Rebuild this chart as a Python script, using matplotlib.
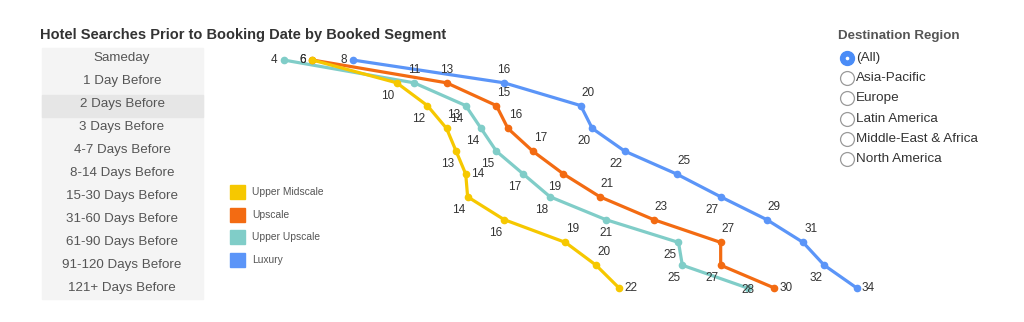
import matplotlib.pyplot as plt
from matplotlib.patches import Rectangle

plt.rcParams['font.family'] = ['Liberation Sans', 'DejaVu Sans']

# booking windows (rows) and average searches per segment
windows = ['Sameday', '1 Day Before', '2 Days Before', '3 Days Before',
           '4-7 Days Before', '8-14 Days Before', '15-30 Days Before',
           '31-60 Days Before', '61-90 Days Before', '91-120 Days Before',
           '121+ Days Before']
segments = ['Upper Midscale', 'Upscale', 'Upper Upscale', 'Luxury']
upper_midscale = [5.6, 10.0, 11.6, 12.6, 13.1, 13.6, 13.7, 15.6, 18.8, 20.4, 21.6]
upscale = [5.6, 12.6, 15.2, 15.8, 17.1, 18.7, 20.6, 23.4, 26.9, 26.9, 29.7]
upper_upscale = [4.1, 10.9, 13.6, 14.4, 15.2, 16.6, 18.0, 20.9, 24.7, 24.9, 28.3]
luxury = [7.7, 15.6, 19.6, 20.2, 21.9, 24.6, 26.9, 29.3, 31.2, 32.3, 34.0]
regions = ['(All)', 'Asia-Pacific', 'Europe', 'Latin America',
           'Middle-East & Africa', 'North America']

colors = ['#f6c800', '#f36b12', '#80cdc8', '#5b95f8']
series = [upper_midscale, upscale, upper_upscale, luxury]

# label placement per point: L=left, R=right, A=above, AR, BL, B, C
U, AR, BL, L, R, B, C = 'A', 'AR', 'BL', 'L', 'R', 'B', 'C'
label_pos = [
    [L, BL, BL, AR, BL, R, BL, BL, AR, AR, R],
    [L, U, AR, AR, AR, BL, AR, AR, AR, BL, R],
    [L, U, BL, BL, BL, BL, BL, B, BL, BL, C],
    [L, U, AR, BL, BL, AR, BL, AR, AR, BL, R],
]
offsets = {'L': (-6, 0, 'right', 'center'), 'R': (5, 0, 'left', 'center'),
           'A': (0, 7, 'center', 'bottom'), 'AR': (1, 7, 'left', 'bottom'),
           'BL': (-2, -7, 'right', 'top'), 'B': (0, -7, 'center', 'top'),
           'C': (0, -2, 'center', 'center')}

W, H = 1024, 322
fig = plt.figure(figsize=(W / 100, H / 100), dpi=100)


def fx(px):
    return px / W


def fy(py):
    return 1 - py / H


# main line chart: value 0 sits at x=205px, 19.17 px per unit; rows 22.8px apart
ax = fig.add_axes([0, 0, 1, 1])
ax.set_xlim(-205 / 19.17, (W - 205) / 19.17)
ax.set_ylim((H - 60) / 22.8, -60 / 22.8)
ax.axis('off')

rows = list(range(len(windows)))
for i in reversed(range(len(series))):
    vals = series[i]
    ax.plot(vals, rows, color=colors[i], lw=2.3, marker='o', ms=4.5,
            zorder=10 - i, solid_joinstyle='round', clip_on=False)
    for r, v in enumerate(vals):
        dx, dy, ha, va = offsets[label_pos[i][r]]
        ax.annotate(f'{v:.0f}', (v, r), xytext=(dx, dy),
                    textcoords='offset pixels', ha=ha, va=va,
                    fontsize=8.5, color='#333333', zorder=20)

# title
fig.text(fx(40), fy(35), 'Hotel Searches Prior to Booking Date by Booked Segment',
         fontsize=10.5, fontweight='bold', color='#333333', va='center')

# row header table on the left
fig.patches.append(Rectangle((fx(42), fy(299)), fx(161), 251 / H,
                             transform=fig.transFigure, color='#f4f4f4', zorder=0))
fig.patches.append(Rectangle((fx(42), fy(117)), fx(161), 22 / H,
                             transform=fig.transFigure, color='#e6e6e6', zorder=0))
for r, name in enumerate(windows):
    fig.text(fx(122), fy(58.5 + 22.9 * r), name, fontsize=9.6, color='#555555',
             ha='center', va='center')

# colour legend
for i, seg in enumerate(segments):
    y = 192 + 22.7 * i
    fig.patches.append(Rectangle((fx(230), fy(y + 7)), fx(15), 14 / H,
                                 transform=fig.transFigure, color=colors[i]))
    fig.text(fx(252), fy(y), seg, fontsize=7.4, color='#555555', va='center')

# region filter
fig.text(fx(838), fy(36), 'Destination Region', fontsize=9.6, fontweight='bold',
         color='#555555', va='center')
for k, reg in enumerate(regions):
    y = 58 + 20.2 * k
    if k == 0:
        ax.plot([fx(847)], [fy(y)], 'o', transform=fig.transFigure, ms=10,
                mfc='#4a8cf7', mec='#4a8cf7', clip_on=False)
        ax.plot([fx(847)], [fy(y)], 'o', transform=fig.transFigure, ms=2.6,
                mfc='white', mec='none', clip_on=False)
    else:
        ax.plot([fx(847)], [fy(y)], 'o', transform=fig.transFigure, ms=10,
                mfc='white', mec='#9a9a9a', mew=0.9, clip_on=False)
    fig.text(fx(856), fy(y), reg, fontsize=9.7, color='#333333', va='center')

fig.savefig('out.png', dpi=100)
